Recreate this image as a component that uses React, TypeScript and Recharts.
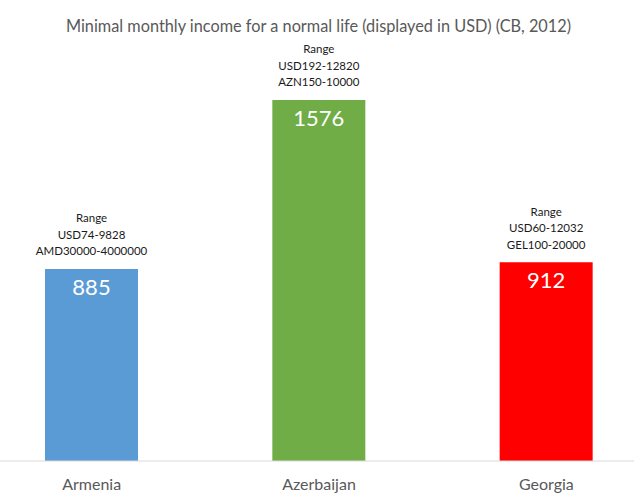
import React from "react";
import { BarChart, Bar, XAxis, YAxis, Cell, LabelList } from "recharts";

const categories = ["Armenia", "Azerbaijan", "Georgia"];
const incomeUsd = [885, 1576, 912];
const rangeUsd = ["USD74-9828", "USD192-12820", "USD60-12032"];
const rangeLocal = ["AMD30000-4000000", "AZN150-10000", "GEL100-20000"];
const barColors = ["#5b9bd5", "#70ad47", "#ff0000"];
const titleText = "Minimal monthly income for a normal life (displayed in USD) (CB, 2012)";

const data = categories.map((name, i) => ({
  name,
  value: incomeUsd[i],
  usd: rangeUsd[i],
  local: rangeLocal[i],
}));

const FONT = "Lato, 'Open Sans', sans-serif";

const RangeLabel = (props: any) => {
  const { x, y, width, index } = props;
  const cx = x + width / 2;
  const lines = ["Range", rangeUsd[index], rangeLocal[index]];
  const baseY = y - 18;
  return (
    <g>
      {lines.map((t, k) => (
        <text
          key={k}
          x={cx}
          y={baseY - (2 - k) * 16.5}
          textAnchor="middle"
          dominantBaseline="central"
          fontFamily={FONT}
          fontSize={11.5}
          fill="#1a1a1a"
        >
          {t}
        </text>
      ))}
    </g>
  );
};

export default function App() {
  return (
    <div style={{ position: "absolute", left: 0, top: 0, width: 634, height: 499, background: "#fff" }}>
      <div
        style={{
          position: "absolute",
          left: 0,
          top: 16,
          width: 637,
          textAlign: "center",
          fontFamily: FONT,
          fontSize: 16.3,
          color: "#595959",
          lineHeight: "20px",
        }}
      >
        {titleText}
      </div>
      <BarChart
        width={634}
        height={499}
        data={data}
        margin={{ top: 40, right: -26, bottom: 8, left: -22 }}
      >
        <XAxis
          dataKey="name"
          tickLine={false}
          axisLine={{ stroke: "#d9d9d9", strokeWidth: 1 }}
          tick={{ fill: "#595959", fontSize: 16, fontFamily: FONT }}
          tickMargin={12}
          height={30}
          interval={0}
        />
        <YAxis hide domain={[100, 1821]} allowDataOverflow />
        <Bar dataKey="value" barSize={93} isAnimationActive={false}>
          {data.map((d, i) => (
            <Cell key={d.name} fill={barColors[i]} />
          ))}
          <LabelList
            dataKey="value"
            position="insideTop"
            offset={10}
            fill="#ffffff"
            fontSize={22}
            fontFamily={FONT}
          />
          <LabelList dataKey="value" content={<RangeLabel />} />
        </Bar>
      </BarChart>
    </div>
  );
}
